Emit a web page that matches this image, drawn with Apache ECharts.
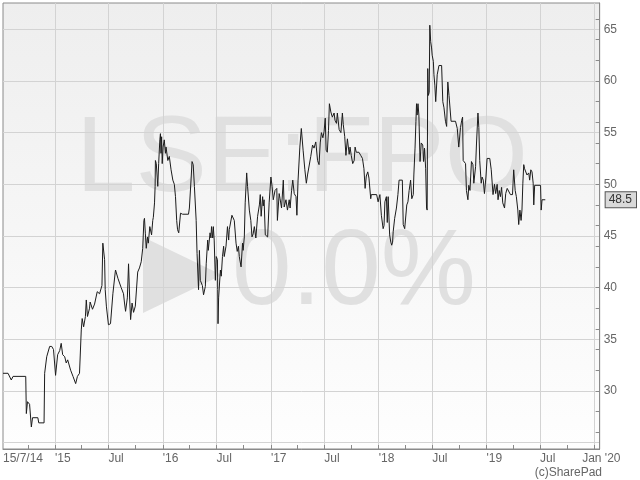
<!DOCTYPE html>
<html><head><meta charset="utf-8">
<script src="https://cdn.jsdelivr.net/npm/echarts@6/dist/echarts.min.js"></script>
<style>html,body{margin:0;padding:0;background:#fff}#c{width:640px;height:480px}</style>
</head><body><div id="c"></div>
<script>
// ---- data ----
const seriesStart = Date.UTC(2014, 6, 9);
const axisEnd = Date.UTC(2020, 0, 19);
const dayOffsets = [0,17,28,34,77,79,83,90,96,100,118,121,139,141,148,158,165,171,178,185,192,197,202,209,214,219,229,237,246,252,259,265,268,273,279,282,286,293,295,303,310,319,327,335,338,340,344,346,350,357,364,372,380,381,389,394,400,408,411,415,421,425,429,432,437,442,448,456,462,468,473,477,479,482,485,489,492,497,503,507,509,513,515,516,519,522,524,527,531,533,535,537,539,542,546,550,552,558,563,569,575,580,584,588,591,595,601,608,628,631,637,640,644,648,654,657,662,665,668,675,679,685,688,693,695,701,704,706,710,712,715,719,722,726,727,728,730,736,739,743,747,749,755,760,764,766,775,783,789,793,797,800,806,811,813,817,820,825,828,834,839,843,847,851,856,862,868,871,874,879,881,884,888,896,901,907,911,915,921,927,929,935,938,943,949,952,958,963,969,972,977,981,986,992,995,999,1005,1010,1016,1022,1027,1031,1036,1042,1048,1053,1059,1065,1070,1074,1078,1083,1087,1091,1094,1098,1102,1105,1110,1115,1121,1124,1129,1132,1138,1144,1149,1152,1157,1161,1166,1172,1175,1179,1184,1189,1192,1196,1205,1211,1217,1222,1226,1230,1235,1239,1245,1247,1265,1270,1273,1276,1281,1287,1290,1293,1298,1301,1304,1309,1313,1316,1319,1321,1326,1332,1337,1341,1352,1355,1360,1364,1367,1371,1375,1380,1384,1389,1391,1395,1398,1400,1402,1405,1408,1412,1416,1421,1424,1427,1431,1434,1436,1438,1440,1443,1445,1448,1451,1453,1457,1459,1462,1465,1470,1476,1485,1489,1493,1498,1502,1506,1510,1513,1517,1532,1538,1543,1549,1553,1556,1558,1566,1569,1574,1577,1581,1586,1591,1594,1600,1603,1608,1611,1614,1619,1622,1626,1630,1635,1639,1648,1653,1659,1664,1668,1673,1676,1680,1684,1688,1692,1698,1702,1707,1713,1718,1725,1729,1734,1738,1743,1746,1750,1754,1757,1760,1763,1766,1771,1774,1780,1783,1787,1791,1795,1797,1800,1820,1822,1825,1836];
const prices = [31.7,31.7,31.05,31.4,31.4,27.8,28.95,28.7,26.5,27.4,27.4,26.9,26.9,31.7,33.3,34.3,34.3,34.0,31.5,33.5,33.9,34.6,33.5,33.3,32.7,33.0,32.0,31.4,30.7,31.4,31.7,35.9,37.0,36.2,37.2,38.8,37.2,38.0,38.6,37.9,38.4,39.6,39.4,40.2,44.3,44.4,42.7,39.8,38.2,36.4,36.5,39.4,41.5,41.7,40.9,41.0,40.0,39.4,38.6,37.7,39.0,42.3,38.8,36.9,38.5,37.6,38.2,41.5,41.9,42.5,43.8,46.5,46.7,45.2,43.8,44.9,44.3,45.9,45.1,46.5,46.8,48.2,49.8,52.3,52.0,50.7,49.8,52.0,54.3,54.9,53.0,54.6,52.0,53.6,54.3,53.0,53.6,52.3,52.7,51.4,50.4,50.0,48.8,46.5,45.6,45.3,47.2,47.1,47.1,47.7,50.6,52.2,51.9,49.8,46.5,43.3,39.8,43.6,40.7,40.2,39.3,40.1,42.3,44.6,43.6,45.3,44.8,45.9,44.8,45.9,44.6,40.7,43.0,42.7,39.8,36.5,39.0,41.7,41.1,43.0,44.0,43.0,44.0,45.9,44.6,45.6,47.0,46.5,44.3,43.5,44.0,43.0,42.0,44.3,43.6,44.9,48.2,51.1,49.8,47.5,46.5,44.9,45.2,45.9,44.8,46.9,48.0,49.0,46.9,48.8,47.9,48.5,45.1,44.9,48.2,50.7,49.8,48.5,49.4,49.6,46.5,49.1,48.6,47.7,50.4,47.8,48.5,47.5,48.5,47.7,49.4,50.4,49.1,48.8,47.0,50.4,53.6,55.4,53.3,51.4,50.1,50.9,50.9,52.7,53.8,53.5,54.1,52.3,51.9,54.0,55.0,54.5,55.1,56.4,53.3,53.1,55.2,57.8,57.0,56.5,56.9,56.2,55.9,56.9,55.3,55.0,56.9,55.8,54.6,52.8,54.4,52.9,53.6,52.8,52.0,52.3,53.6,53.1,53.1,52.8,52.5,51.5,49.6,50.8,51.2,50.6,48.6,49.0,49.0,48.3,48.3,49.0,47.0,45.7,46.0,48.3,48.8,46.3,48.8,45.1,44.4,44.1,44.4,45.4,46.7,47.7,49.0,50.4,50.4,46.1,45.7,45.7,48.0,48.3,49.4,50.4,48.6,49.0,50.9,53.5,56.1,57.8,56.7,57.8,56.7,52.2,54.0,53.8,52.2,53.5,51.5,47.7,47.5,61.2,58.6,58.9,65.4,63.8,63.2,62.5,61.9,60.6,59.6,58.0,60.6,61.5,61.5,58.0,57.4,56.1,55.6,59.9,58.6,58.6,56.1,56.1,55.4,53.6,55.5,56.2,56.5,52.3,52.0,49.4,48.5,49.9,49.4,52.2,51.9,50.1,51.7,53.9,56.9,55.5,52.3,50.1,50.7,50.4,49.1,50.7,52.5,52.5,51.4,49.0,50.0,49.1,50.0,48.5,49.4,48.8,49.7,48.2,47.7,49.1,49.6,49.6,49.0,49.0,51.4,49.4,48.8,47.5,46.1,47.5,46.5,47.5,50.1,51.9,51.5,51.4,50.9,51.1,50.4,51.4,51.2,50.1,48.0,49.9,49.9,47.5,48.5,48.5];

const yMin = 24.37, yMax = 67.55;
const yLabelValues = [30, 35, 40, 45, 50, 55, 60, 65];
const yGridValues = [25, 30, 35, 40, 45, 50, 55, 60, 65];
const yTickValues = [26, 28, 30, 32, 34, 36, 38, 40, 42, 44, 46, 48, 50, 52, 54, 56, 58, 60, 62, 64, 66];

const quarterTickDates = ['2014-10-01','2015-01-01','2015-04-01','2015-07-01','2015-10-01','2016-01-01','2016-04-01','2016-07-01','2016-10-01','2017-01-01','2017-04-01','2017-07-01','2017-10-01','2018-01-01','2018-04-01','2018-07-01','2018-10-01','2019-01-01','2019-04-01','2019-07-01','2019-10-01','2020-01-01'];
const gridDates = ['2015-01-01','2015-07-01','2016-01-01','2016-07-01','2017-01-01','2017-07-01','2018-01-01','2018-07-01','2019-01-01','2019-07-01','2020-01-01'];
const xLabelDates = ['2014-07-09','2015-01-01','2015-07-01','2016-01-01','2016-07-01','2017-01-01','2017-07-01','2018-01-01','2018-07-01','2019-01-01','2019-07-01'];
const xLabelTexts = ['15/7/14',"'15",'Jul',"'16",'Jul',"'17",'Jul',"'18",'Jul',"'19",'Jul'];
const lastLabelDate = '2020-01-01';
const lastLabelText = "Jan '20";

// ---- build ----
const ts = s => Date.parse(s + 'T00:00:00Z');
const DAY = 86400000;
const lineData = dayOffsets.map((d, i) => [seriesStart + d * DAY, prices[i]]);
const labelMap = {};
xLabelDates.forEach((d, i) => { labelMap[ts(d)] = xLabelTexts[i]; });
const lastPrice = prices[prices.length - 1];

const FONT = '"Liberation Sans", Arial, sans-serif';
const axisGray = '#8a8a8a';
const gridGray = '#d3d3d3';
const labelGray = '#666666';

const chart = echarts.init(document.getElementById('c'), null, {renderer: 'canvas'});
chart.setOption({
  animation: false,
  backgroundColor: '#ffffff',
  title: {
    text: '(c)SharePad', right: 38, bottom: 1, padding: 0,
    textStyle: {fontSize: 12, fontWeight: 'normal', color: labelGray, fontFamily: FONT}
  },
  grid: {
    left: 3, top: 3, right: 39, bottom: 31, show: true,
    borderColor: axisGray, borderWidth: 1,
    backgroundColor: new echarts.graphic.LinearGradient(0, 0, 0, 1, [
      {offset: 0, color: '#eeeeee'}, {offset: 1, color: '#fefefe'}
    ])
  },
  graphic: [
    {type: 'text', x: 302, y: 161.5, silent: true, z: 0,
      style: {text: 'LSE:FPO', font: '107px ' + FONT, fill: '#e0e0e0',
        textAlign: 'center', textVerticalAlign: 'middle', align: 'center', verticalAlign: 'middle'}},
    {type: 'text', x: 354, y: 274, silent: true, z: 0,
      style: {text: '0.0%', font: '107px ' + FONT, fill: '#e0e0e0',
        textAlign: 'center', textVerticalAlign: 'middle', align: 'center', verticalAlign: 'middle'}},
    {type: 'polygon', silent: true, z: 0,
      shape: {points: [[143, 237], [143, 313], [222, 275]]},
      style: {fill: '#e0e0e0'}}
  ],
  xAxis: [
    {type: 'value', position: 'bottom', min: seriesStart, max: axisEnd, z: 1,
      axisLine: {show: true, lineStyle: {color: axisGray, width: 1}},
      axisTick: {show: true, inside: true, length: 4, customValues: quarterTickDates.map(ts), lineStyle: {color: axisGray}},
      axisLabel: {show: false}, splitLine: {show: false}},
    {type: 'value', position: 'bottom', min: seriesStart, max: axisEnd, z: 1,
      axisLine: {show: false},
      axisTick: {show: false, customValues: gridDates.map(ts)},
      axisLabel: {show: true, customValues: xLabelDates.map(ts), align: 'left', margin: 4,
        color: labelGray, fontSize: 12, fontFamily: FONT,
        formatter: v => labelMap[v] || ''},
      splitLine: {show: true, lineStyle: {color: gridGray, width: 1}}},
    {type: 'value', position: 'bottom', min: seriesStart, max: axisEnd, z: 1,
      axisLine: {show: false}, axisTick: {show: false},
      axisLabel: {show: true, customValues: [ts(lastLabelDate)], align: 'center', margin: 4,
        padding: [0, 0, 0, 14], color: labelGray, fontSize: 12, fontFamily: FONT,
        formatter: () => lastLabelText},
      splitLine: {show: false}}
  ],
  yAxis: [
    {type: 'value', position: 'right', min: yMin, max: yMax, z: 1,
      axisLine: {show: true, lineStyle: {color: axisGray, width: 1}},
      axisTick: {show: true, inside: true, length: 4, customValues: yTickValues, lineStyle: {color: axisGray}},
      axisLabel: {show: false}, splitLine: {show: false}},
    {type: 'value', position: 'right', min: yMin, max: yMax, z: 1,
      axisLine: {show: false},
      axisTick: {show: false, customValues: yGridValues},
      axisLabel: {show: true, customValues: yLabelValues, margin: 4, color: labelGray, fontSize: 12, fontFamily: FONT},
      splitLine: {show: true, lineStyle: {color: gridGray, width: 1}}},
    {type: 'value', position: 'right', min: yMin, max: yMax, z: 5,
      axisLine: {show: false}, axisTick: {show: false}, splitLine: {show: false},
      axisLabel: {show: true, customValues: [lastPrice], margin: 6, color: '#333', fontSize: 12, fontFamily: FONT,
        formatter: v => Number(v).toFixed(1),
        backgroundColor: '#d9d9d9', borderColor: '#555', borderWidth: 1, padding: [2, 4, 1, 3]}}
  ],
  series: [{
    type: 'line', xAxisIndex: 0, yAxisIndex: 0, data: lineData,
    showSymbol: false, symbol: 'none', z: 3,
    lineStyle: {color: '#1c1c1c', width: 1}
  }]
});
</script></body></html>
